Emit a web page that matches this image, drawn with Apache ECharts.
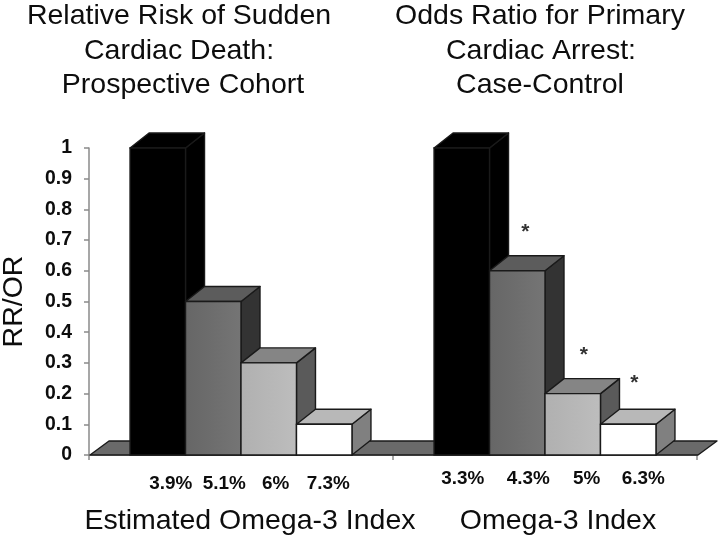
<!DOCTYPE html>
<html><head><meta charset="utf-8">
<style>html,body{margin:0;padding:0;background:#fff}#c{width:720px;height:538px;filter:blur(0.45px)}</style>
<script src="https://cdn.jsdelivr.net/npm/echarts@6/dist/echarts.min.js"></script>
</head><body><div id="c"></div>
<script>
var groups = ['Prospective Cohort', 'Case-Control'];
var cohortValues = [1, 0.5, 0.3, 0.1];
var caseValues = [1, 0.6, 0.2, 0.1];
var cohortLabels = ['3.9%', '5.1%', '6%', '7.3%'];
var caseLabels = ['3.3%', '4.3%', '5%', '6.3%'];
var caseStars = [null, 0.735, 0.335, 0.245];
var cohortStars = [null, null, null, null];
var yTicks = [0, 0.1, 0.2, 0.3, 0.4, 0.5, 0.6, 0.7, 0.8, 0.9, 1];
var titleLines = [
  'Relative Risk of Sudden', 'Cardiac Death:', 'Prospective Cohort',
  'Odds Ratio for Primary', 'Cardiac Arrest:', 'Case-Control',
  'Estimated Omega-3 Index', 'Omega-3 Index'
];

var FONT = '"Liberation Sans", Arial, sans-serif';
var TEXT = '#0d0d0d';
var DX = 19, DY = 15, BAR_FRAC = 0.1825;
var FRONT = [
  ['#000000', '#000000'], ['#666666', '#757575'], ['#b0b0b0', '#bdbdbd'], ['#ffffff', '#ffffff']
];
var TOP = ['#000000', '#5c5c5c', '#858585', '#b8b8b8'];
var SIDE = ['#000000', '#333333', '#5a5a5a', '#808080'];
var EDGE = '#1a1a1a';
var LABEL_DX = [[13, 11, 7, 4], [1, 11, 14, 15]];
var LABEL_Y = [29, 24];
var STAR_DX = [[0, 0, 0, 0], [0, 8, 11, 6]];
var TITLE_POS = [[179, 24], [179, 59], [183, 93], [540, 24], [541, 59], [540, 93], [250, 529], [558, 529]];

var barData = [];
[cohortValues, caseValues].forEach(function (vals, g) {
  vals.forEach(function (v, i) { barData.push([g, v, i]); });
});

function poly(pts, fill) {
  return { type: 'polygon', shape: { points: pts },
    style: { fill: fill, stroke: EDGE, lineWidth: 1.4, lineJoin: 'round' } };
}
function renderBar(params, api) {
  var g = api.value(0), v = api.value(1), i = api.value(2);
  var band = api.size([1, 0])[0];
  var w = band * BAR_FRAC;
  var base = api.coord([g, 0]);
  var top = api.coord([g, v]);
  var x0 = base[0] + (i - 2) * w, x1 = x0 + w, y0 = base[1], y1 = top[1];
  var fr = FRONT[i];
  var kids = [
    poly([[x1, y1], [x1 + DX, y1 - DY], [x1 + DX, y0 - DY], [x1, y0]], SIDE[i]),
    poly([[x0, y1], [x0 + DX, y1 - DY], [x1 + DX, y1 - DY], [x1, y1]], TOP[i]),
    { type: 'rect', shape: { x: x0, y: y1, width: w, height: y0 - y1 },
      style: { fill: new echarts.graphic.LinearGradient(0, 0, 1, 0, [
        { offset: 0, color: fr[0] }, { offset: 1, color: fr[1] }]),
        stroke: EDGE, lineWidth: 1.4 } }
  ];
  var labels = g === 0 ? cohortLabels : caseLabels;
  kids.push({ type: 'text', style: {
    x: x0 + w / 2 + LABEL_DX[g][i], y: y0 + LABEL_Y[g], text: labels[i],
    fill: TEXT, font: 'bold 18.9px ' + FONT, align: 'center', verticalAlign: 'middle' } });
  var star = (g === 0 ? cohortStars : caseStars)[i];
  if (star !== null) {
    var sp = api.coord([g, star]);
    kids.push({ type: 'text', style: {
      x: x0 + w / 2 + STAR_DX[g][i], y: sp[1] + 3, text: '*',
      fill: '#333333', font: 'bold 21px ' + FONT, align: 'center', verticalAlign: 'middle' } });
  }
  return { type: 'group', children: kids };
}
function renderFloor(params, api) {
  var cs = params.coordSys;
  var xl = cs.x, xr = cs.x + cs.width, y = cs.y + cs.height;
  return poly([[xl + 1, y], [xl + 1 + DX, y - DY + 1], [xr + DX + 1, y - DY + 1], [xr + 1, y]], '#6a6a6a');
}

var chart = echarts.init(document.getElementById('c'), null, { renderer: 'canvas' });
var titles = titleLines.map(function (t, k) {
  return { text: t, left: TITLE_POS[k][0], top: TITLE_POS[k][1] - 22, textAlign: 'center', padding: 0,
    textStyle: { fontFamily: FONT, fontSize: 28.5, fontWeight: 'normal', color: TEXT } };
});
chart.setOption({
  animation: false,
  backgroundColor: '#ffffff',
  title: titles,
  grid: { left: 89, right: 23, top: 148, bottom: 83, outerBoundsMode: 'none' },
  xAxis: { type: 'category', data: groups,
    axisLine: { show: true, lineStyle: { color: '#8a8a8a', width: 1.5 } },
    axisTick: { show: true, alignWithLabel: false, length: 5, lineStyle: { color: '#8a8a8a', width: 1.5 } },
    axisLabel: { show: false }, splitLine: { show: false } },
  yAxis: { type: 'value', min: 0, max: 1, interval: 0.1,
    name: 'RR/OR', nameLocation: 'middle', nameGap: 60, nameRotate: 90,
    nameTextStyle: { fontFamily: FONT, fontSize: 28.5, color: TEXT },
    axisLine: { show: true, lineStyle: { color: '#8a8a8a', width: 1.5 } },
    axisTick: { show: true, length: 5, lineStyle: { color: '#8a8a8a', width: 1.5 } },
    axisLabel: { fontFamily: FONT, fontSize: 19.4, fontWeight: 'bold', color: TEXT, margin: 17,
      customValues: yTicks },
    splitLine: { show: false } },
  series: [
    { type: 'custom', name: 'floor', renderItem: renderFloor, data: [[0, 0]], z: 1, silent: true },
    { type: 'custom', name: 'bars', renderItem: renderBar, data: barData, z: 2,
      encode: { x: 0, y: 1 }, silent: true }
  ]
});
</script></body></html>
